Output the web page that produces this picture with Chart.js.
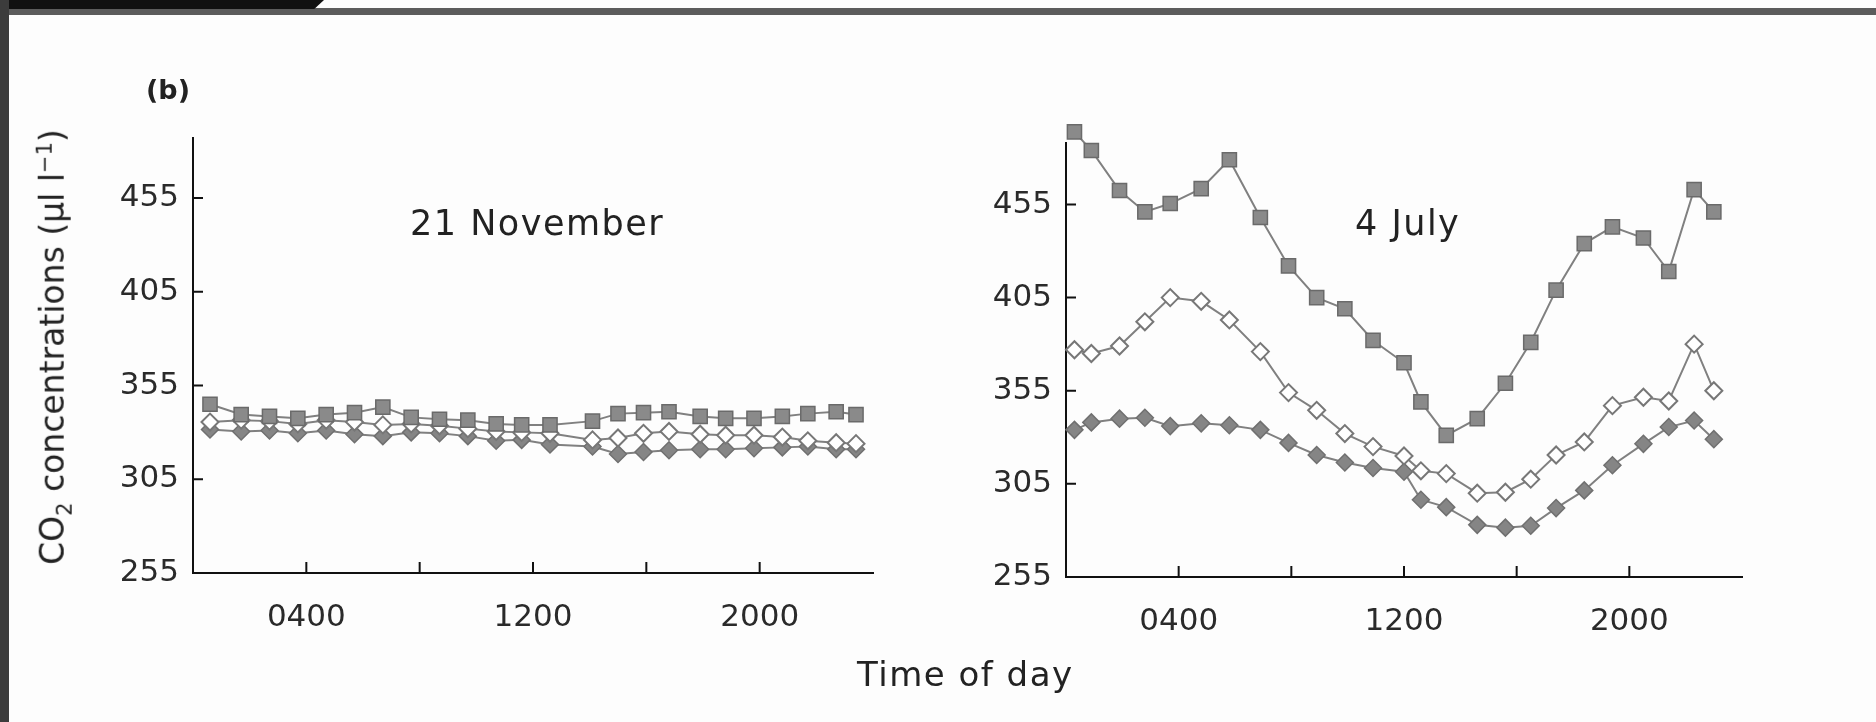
<!DOCTYPE html>
<html>
<head>
    <title>CO2 concentrations - time of day</title>
    <script src="https://cdn.jsdelivr.net/npm/chart.js"></script>
    <style>
        body {
            margin: 0;
            width: 1876px;
            height: 722px;
            overflow: hidden;
            position: relative;
            background-color: #fdfdfd;
            font-family: "DejaVu Sans", sans-serif;
            color: #222222;
        }
        .frame-top {
            position: absolute;
            left: 0; top: 8px;
            width: 1876px; height: 7px;
            background-color: #5c5c5c;
        }
        .frame-tab {
            position: absolute;
            left: 0; top: 0;
            width: 324px; height: 9px;
            background-color: #111111;
            clip-path: polygon(0 0, 100% 0, 97% 100%, 0 100%);
        }
        .frame-left {
            position: absolute;
            left: 0; top: 0;
            width: 9px; height: 722px;
            background-color: #3c3c3c;
        }
        canvas {
            position: absolute;
            top: 0;
        }
        #leftChart { left: 0; }
        #rightChart { left: 940px; }
        .label {
            position: absolute;
            white-space: nowrap;
            line-height: 1;
        }
        #panelTag { left: 146px; top: 76px; font-size: 27px; font-weight: bold; }
        #leftTitle { left: 410px; top: 206px; font-size: 35px; letter-spacing: 1.5px; }
        #rightTitle { left: 1355px; top: 206px; font-size: 35px; letter-spacing: 1.5px; }
        #xTitle { left: 857px; top: 657px; font-size: 34px; letter-spacing: 1.5px; }
        #yTitle {
            left: 55px; top: 347px;
            font-size: 33px;
            transform: translate(-50%, -50%) rotate(-90deg);
        }
        #yTitle sub { font-size: 21px; }
        #yTitle sup { font-size: 21px; }
    </style>
</head>
<body>
    <div class="frame-top"></div>
    <div class="frame-tab"></div>
    <div class="frame-left"></div>

    <canvas id="leftChart" width="940" height="722"></canvas>
    <canvas id="rightChart" width="936" height="722"></canvas>

    <div class="label" id="panelTag">(b)</div>
    <div class="label" id="leftTitle">21 November</div>
    <div class="label" id="rightTitle">4 July</div>
    <div class="label" id="xTitle">Time of day</div>
    <div class="label" id="yTitle">CO<sub>2</sub> concentrations (μl l<sup>−1</sup>)</div>

    <script>
        // osie
        const yTicks = [255, 305, 355, 405, 455];
        const xTicks = [4, 8, 12, 16, 20];
        const xTickLabels = ['0400', '', '1200', '', '2000'];

        // 21 November (godzina pomiaru, CO2 w µl/l)
        const novHours = [0.6, 1.7, 2.7, 3.7, 4.7, 5.7, 6.7, 7.7, 8.7, 9.7, 10.7, 11.6,
                          12.6, 14.1, 15.0, 15.9, 16.8, 17.9, 18.8, 19.8, 20.8, 21.7, 22.7, 23.4];
        const novSquares = [345, 339.5, 338.5, 337.5, 339.5, 340.5, 343.5, 338, 337, 336.5, 334.5, 334,
                            334, 336, 340, 340.5, 341, 338.5, 337.5, 337.5, 338.5, 340, 341, 339.5];
        const novOpen = [335.5, 336.5, 336, 334.5, 336.5, 335.5, 334, 334.5, 333.5, 332, 330.5, 330,
                         329.5, 326, 327, 329.5, 330.5, 329, 328.5, 328.5, 327.5, 325.5, 324.5, 324];
        const novFilled = [331.5, 330.5, 331, 329.5, 331, 329, 328, 330, 329.5, 328, 325.5, 326,
                           323.5, 322.5, 318.5, 319.5, 320.5, 321, 321, 321.5, 322, 322.5, 321, 321];

        // 4 July
        const julHours = [0.3, 0.9, 1.9, 2.8, 3.7, 4.8, 5.8, 6.9, 7.9, 8.9, 9.9, 10.9, 12.0,
                          12.6, 13.5, 14.6, 15.6, 16.5, 17.4, 18.4, 19.4, 20.5, 21.4, 22.3, 23.0];
        const julSquares = [494, 484, 462.5, 451, 455.5, 463.5, 479, 448, 422, 405, 399, 382, 370,
                            349, 331, 340, 359, 381, 409, 434, 443, 437, 419, 463, 451];
        const julOpen = [377, 375, 379, 392, 405, 403, 393, 376, 354, 344.5, 332, 325, 320,
                         312, 310.5, 300, 300.5, 307.5, 320.5, 327.5, 347, 351.5, 349.5, 380, 355];
        const julFilled = [334, 338, 340, 340.5, 336, 337.5, 336.5, 334, 327, 320.5, 316.5, 313.5, 311.5,
                           296.5, 292.5, 283, 281.5, 282.5, 292, 301.5, 315, 326.5, 335.5, 339, 329];

        // krótkie kreski podziałki skierowane do środka wykresu
        const innerTicks = {
            id: 'innerTicks',
            afterDraw(chart) {
                const { ctx, chartArea: a, scales: { x, y } } = chart;
                ctx.save();
                ctx.strokeStyle = '#111111';
                ctx.lineWidth = 2;
                ctx.beginPath();
                x.ticks.forEach(t => {
                    const px = x.getPixelForValue(t.value);
                    ctx.moveTo(px, a.bottom);
                    ctx.lineTo(px, a.bottom - 11);
                });
                y.ticks.forEach(t => {
                    if (t.value === y.min) return;
                    const py = y.getPixelForValue(t.value);
                    ctx.moveTo(a.left, py);
                    ctx.lineTo(a.left + 10, py);
                });
                ctx.stroke();
                ctx.restore();
            }
        };

        function points(hours, values) {
            return hours.map((h, i) => ({ x: h, y: values[i] }));
        }

        function makePanel(id, hours, squares, open, filled, yMax, yWidth, xHeight, padRight, padTop) {
            const tickFont = { family: 'DejaVu Sans', size: 31 };
            return new Chart(document.getElementById(id), {
                type: 'line',
                data: {
                    datasets: [
                        {
                            data: points(hours, squares),
                            clip: false,
                            borderColor: '#808080',
                            borderWidth: 2,
                            pointStyle: 'rect',
                            pointRadius: 10,
                            pointBackgroundColor: '#8a8a8a',
                            pointBorderColor: '#6a6a6a',
                            pointBorderWidth: 1.5
                        },
                        {
                            data: points(hours, open),
                            clip: false,
                            borderColor: '#808080',
                            borderWidth: 2,
                            pointStyle: 'rectRot',
                            pointRadius: 8.5,
                            pointBackgroundColor: '#ffffff',
                            pointBorderColor: '#777777',
                            pointBorderWidth: 2
                        },
                        {
                            data: points(hours, filled),
                            clip: false,
                            borderColor: '#808080',
                            borderWidth: 2,
                            pointStyle: 'rectRot',
                            pointRadius: 8.5,
                            pointBackgroundColor: '#858585',
                            pointBorderColor: '#707070',
                            pointBorderWidth: 1.5
                        }
                    ]
                },
                options: {
                    responsive: false,
                    animation: false,
                    layout: { padding: { left: 0, right: padRight, top: padTop, bottom: 0 } },
                    elements: { line: { tension: 0 } },
                    plugins: { legend: { display: false }, tooltip: { enabled: false } },
                    scales: {
                        x: {
                            type: 'linear',
                            min: 0,
                            max: 24,
                            afterBuildTicks: s => { s.ticks = xTicks.map(v => ({ value: v })); },
                            afterFit: s => { s.height = xHeight; },
                            ticks: {
                                callback: v => xTickLabels[xTicks.indexOf(v)] ?? '',
                                font: tickFont,
                                color: '#2a2a2a',
                                padding: 26,
                                maxRotation: 0,
                                autoSkip: false
                            },
                            grid: { display: false, drawTicks: false },
                            border: { color: '#111111', width: 2 }
                        },
                        y: {
                            min: 255,
                            max: yMax,
                            afterBuildTicks: s => { s.ticks = yTicks.map(v => ({ value: v })); },
                            afterFit: s => { s.width = yWidth; },
                            ticks: {
                                font: tickFont,
                                color: '#2a2a2a',
                                padding: 14
                            },
                            grid: { display: false, drawTicks: false },
                            border: { color: '#111111', width: 2 }
                        }
                    }
                },
                plugins: [innerTicks]
            });
        }

        makePanel('leftChart', novHours, novSquares, novOpen, novFilled, 487, 193, 149, 67, 138);
        makePanel('rightChart', julHours, julSquares, julOpen, julFilled, 488, 126, 145, 134, 143);
    </script>
</body>
</html>
